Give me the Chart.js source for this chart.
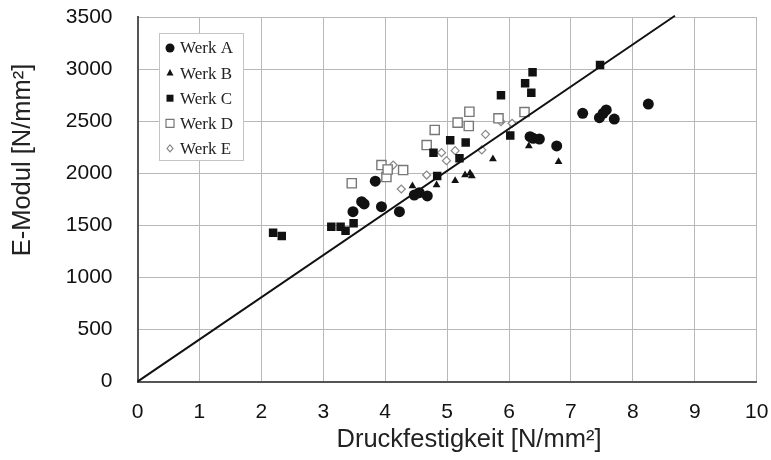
<!DOCTYPE html>
<html>
<head>
<meta charset="utf-8">
<script src="https://cdn.jsdelivr.net/npm/chart.js@4.4.0/dist/chart.umd.min.js"></script>
<style>
  body { margin: 0; background: #fff; }
</style>
</head>
<body>
<canvas id="myChart" width="771" height="460"></canvas>
<script>
// Druckfestigkeit (x) and E-Modul (y) per Werk
var werkA_x = [3.48, 3.62, 3.66, 3.84, 3.94, 4.23, 4.47, 4.55, 4.68, 6.34, 6.39, 6.49, 6.77, 7.19, 7.46, 7.52, 7.57, 7.70, 8.25]
var werkA_y = [1633, 1729, 1707, 1926, 1681, 1633, 1793, 1815, 1784, 2353, 2338, 2331, 2264, 2578, 2536, 2578, 2610, 2523, 2667]

var werkB_x = [4.44, 4.83, 5.13, 5.29, 5.37, 5.40, 5.74, 6.32, 6.80]
var werkB_y = [1880, 1889, 1931, 1985, 2002, 1976, 2139, 2264, 2113]

var werkC_x = [2.19, 2.33, 3.13, 3.28, 3.36, 3.49, 4.78, 4.84, 5.05, 5.20, 5.30, 5.87, 6.02, 6.26, 6.36, 6.38, 7.47]
var werkC_y = [1431, 1399, 1489, 1489, 1450, 1521, 2200, 1976, 2318, 2146, 2298, 2752, 2365, 2866, 2776, 2972, 3042]

var werkD_x = [3.46, 3.94, 4.02, 4.04, 4.29, 4.67, 4.80, 5.17, 5.35, 5.36, 5.83, 6.25]
var werkD_y = [1906, 2081, 1966, 2038, 2033, 2273, 2418, 2488, 2456, 2593, 2530, 2590]

var werkE_x = [4.13, 4.26, 4.67, 4.91, 4.99, 5.13, 5.56, 5.62, 5.87, 6.05, 6.26]
var werkE_y = [2081, 1851, 1985, 2200, 2123, 2219, 2226, 2376, 2497, 2482, 2571]

// straight line through the origin
var line_x = [0, 8.68]
var line_y = [0, 3515]

var xTicks = [0, 1, 2, 3, 4, 5, 6, 7, 8, 9, 10]
var yTicks = [0, 500, 1000, 1500, 2000, 2500, 3000, 3500]

var legendNames = ['Werk A', 'Werk B', 'Werk C', 'Werk D', 'Werk E']

function toPoints(xs, ys) {
    var pts = []
    xs.forEach((x, i) => pts.push({x: x, y: ys[i]}))
    return pts
}

function werk(label, xs, ys, style, radius, fill, stroke, bw) {
    return {
        label: label,
        data: toPoints(xs, ys),
        pointStyle: style,
        pointRadius: radius,
        pointHoverRadius: radius,
        pointBackgroundColor: fill,
        pointBorderColor: stroke,
        pointBorderWidth: bw
    }
}

// little legend box in the upper left corner of the plot
function legendMarker(ctx, i, x, y) {
    ctx.save()
    ctx.lineWidth = 1.2
    ctx.beginPath()
    if (i == 0) {
        ctx.arc(x, y, 4.5, 0, Math.PI * 2)
        ctx.fillStyle = '#111'; ctx.fill()
    } else if (i == 1) {
        ctx.moveTo(x, y - 4); ctx.lineTo(x + 3.5, y + 2.5); ctx.lineTo(x - 3.5, y + 2.5); ctx.closePath()
        ctx.fillStyle = '#111'; ctx.fill()
    } else if (i == 2) {
        ctx.rect(x - 3.5, y - 3.5, 7, 7)
        ctx.fillStyle = '#111'; ctx.fill()
    } else if (i == 3) {
        ctx.rect(x - 4, y - 4, 8, 8)
        ctx.strokeStyle = '#777'; ctx.stroke()
    } else {
        ctx.moveTo(x, y - 3.5); ctx.lineTo(x + 3, y); ctx.lineTo(x, y + 3.5); ctx.lineTo(x - 3, y); ctx.closePath()
        ctx.strokeStyle = '#888'; ctx.stroke()
    }
    ctx.restore()
}

const boxLegend = {
    id: 'boxLegend',
    afterDraw(chart) {
        var ctx = chart.ctx
        ctx.save()
        ctx.fillStyle = '#fff'
        ctx.fillRect(159, 33, 84, 127)
        ctx.strokeStyle = '#c4c4c4'
        ctx.lineWidth = 1
        ctx.strokeRect(159.5, 33.5, 84, 127)
        ctx.font = '17px "Liberation Serif", serif'
        ctx.fillStyle = '#222'
        ctx.textBaseline = 'middle'
        legendNames.forEach((name, i) => {
            var y = 48 + i * 25.1
            legendMarker(ctx, i, 170, y)
            ctx.fillText(name, 180, y + 1)
        })
        ctx.restore()
    }
}

// axis titles
const axisTitles = {
    id: 'axisTitles',
    afterDraw(chart) {
        var ctx = chart.ctx
        ctx.save()
        ctx.font = '25.5px "Liberation Sans", Arial, sans-serif'
        ctx.fillStyle = '#222'
        ctx.textAlign = 'center'
        ctx.textBaseline = 'middle'
        ctx.fillText('Druckfestigkeit [N/mm²]', 469, 440)
        ctx.translate(23, 160)
        ctx.rotate(-Math.PI / 2)
        ctx.fillText('E-Modul [N/mm²]', 0, 0)
        ctx.restore()
    }
}

const ctx = document.getElementById('myChart');

new Chart(ctx, {
    type: 'scatter',
    data: {
        datasets: [
            {
                label: 'Gerade',
                data: toPoints(line_x, line_y),
                showLine: true,
                borderColor: '#111',
                borderWidth: 2,
                pointRadius: 0,
                clip: false
            },
            werk('Werk A', werkA_x, werkA_y, 'circle', 5.5, '#111', '#111', 0),
            werk('Werk B', werkB_x, werkB_y, 'triangle', 4.5, '#111', '#111', 0),
            werk('Werk C', werkC_x, werkC_y, 'rect', 6, '#111', '#111', 0),
            werk('Werk D', werkD_x, werkD_y, 'rect', 6.5, '#fff', '#777', 1.4),
            werk('Werk E', werkE_x, werkE_y, 'rectRot', 4, '#fff', '#888', 1.2)
        ]
    },
    options: {
        responsive: false,
        animation: false,
        layout: {
            padding: {top: 17.3, right: 14.3, left: 0, bottom: 0}
        },
        plugins: {
            legend: {display: false},
            tooltip: {enabled: false}
        },
        scales: {
            x: {
                type: 'linear',
                min: 0,
                max: 10,
                afterBuildTicks: (axis) => { axis.ticks = xTicks.map(v => ({value: v})) },
                afterFit: (axis) => { axis.height = 78.3 },
                // ticks are invisible, their length only spaces the labels
                grid: {color: '#b8b8b8', tickLength: 15, tickColor: 'rgba(0,0,0,0)'},
                border: {color: '#555', width: 2},
                ticks: {
                    color: '#111',
                    padding: 2.6,
                    maxRotation: 0,
                    font: {family: '"Liberation Sans", Arial, sans-serif', size: 21}
                }
            },
            y: {
                min: 0,
                max: 3500,
                afterBuildTicks: (axis) => { axis.ticks = yTicks.map(v => ({value: v})) },
                afterFit: (axis) => { axis.width = 137.5 },
                grid: {color: '#b8b8b8', tickLength: 22, tickColor: 'rgba(0,0,0,0)'},
                border: {color: '#555', width: 2},
                ticks: {
                    color: '#111',
                    padding: 3,
                    callback: (v) => String(v),
                    font: {family: '"Liberation Sans", Arial, sans-serif', size: 21}
                }
            }
        }
    },
    plugins: [boxLegend, axisTitles]
});
</script>
</body>
</html>
